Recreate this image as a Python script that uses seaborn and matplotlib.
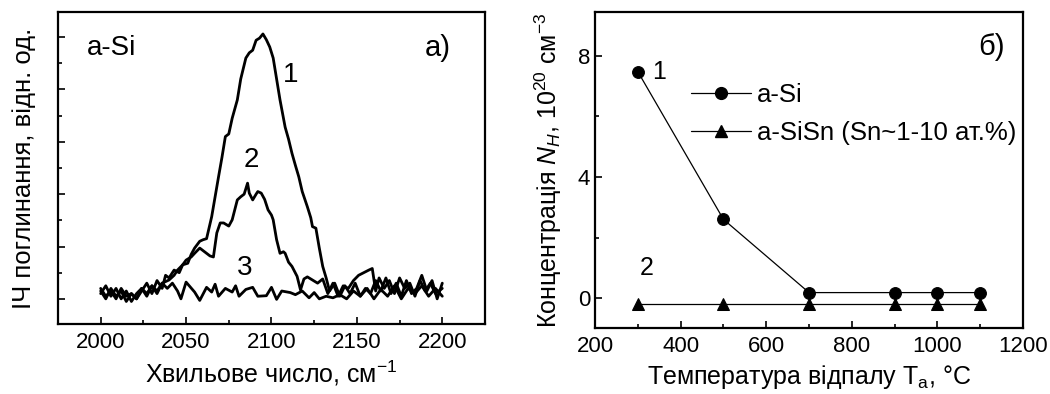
import matplotlib
matplotlib.use('Agg')
import matplotlib.pyplot as plt
from matplotlib.lines import Line2D
import seaborn as sns

sns.set_style('ticks')
plt.rcParams['font.family'] = ['Liberation Sans', 'DejaVu Sans']
plt.rcParams['mathtext.fontset'] = 'custom'
plt.rcParams['mathtext.rm'] = 'Liberation Sans'
plt.rcParams['mathtext.it'] = 'Liberation Sans:italic'
plt.rcParams['text.color'] = 'black'
plt.rcParams['axes.labelcolor'] = 'black'
plt.rcParams['xtick.color'] = 'black'
plt.rcParams['ytick.color'] = 'black'

# IR absorption spectra (panel a)
x1 = [2000, 2003, 2006, 2009, 2012, 2015, 2018, 2021, 2024, 2027, 2030, 2033, 2036, 2038, 2040, 2043,
      2046, 2048, 2051, 2053, 2055, 2058, 2060, 2062, 2065, 2067, 2069, 2071, 2073, 2075, 2077, 2080,
      2082, 2085, 2087, 2089, 2091, 2093, 2095, 2097, 2099, 2101, 2103, 2105, 2108, 2110, 2112, 2114,
      2116, 2118, 2121, 2123, 2124, 2126, 2128, 2130, 2132, 2134, 2137, 2140, 2143, 2146, 2149, 2152,
      2155, 2158, 2161, 2164, 2167, 2170, 2173, 2176, 2179, 2182, 2185, 2188, 2191, 2194, 2197, 2200]
y1 = [0.2, 0.05, 0.15, 0.0, 0.2, 0.05, 0.1, 0.0, 0.15, 0.3, 0.1, 0.35, 0.2, 0.45, 0.4, 0.55,
      0.5, 0.65, 0.68, 0.85, 0.97, 1.1, 1.13, 1.15, 1.57, 1.95, 2.33, 2.7, 3.1, 3.15, 3.45, 3.8,
      4.2, 4.6, 4.7, 4.75, 4.94, 4.98, 5.06, 4.95, 4.81, 4.6, 4.2, 3.8, 3.28, 3.05, 2.78, 2.55,
      2.33, 2.05, 1.76, 1.55, 1.38, 1.35, 0.97, 0.62, 0.4, 0.15, 0.3, 0.05, 0.25, 0.1, 0.3, 0.05,
      0.2, 0.1, 0.35, 0.15, 0.4, 0.1, 0.3, 0.05, 0.35, 0.1, 0.2, 0.45, 0.15, 0.35, 0.0, 0.3]

x2 = [2000, 2003, 2006, 2009, 2012, 2015, 2018, 2021, 2024, 2027, 2030, 2033, 2036, 2040, 2043, 2045,
      2048, 2050, 2053, 2055, 2058, 2060, 2062, 2064, 2066, 2068, 2070, 2072, 2075, 2077, 2080, 2082,
      2084, 2086, 2087, 2089, 2091, 2092, 2094, 2096, 2098, 2100, 2101, 2103, 2105, 2107, 2108, 2110,
      2112, 2115, 2117, 2119, 2121, 2124, 2127, 2130, 2133, 2136, 2139, 2142, 2145, 2148, 2151, 2154,
      2157, 2159, 2161, 2163, 2166, 2169, 2172, 2175, 2178, 2181, 2184, 2187, 2190, 2193, 2196, 2200]
y2 = [0.1, 0.25, 0.05, 0.2, 0.0, 0.15, -0.05, 0.1, 0.2, 0.05, 0.25, 0.15, 0.3, 0.36, 0.45, 0.55,
      0.65, 0.74, 0.8, 0.87, 0.97, 0.92, 0.87, 0.82, 0.8, 1.26, 1.45, 1.45, 1.39, 1.51, 1.89, 1.95,
      2.0, 2.21, 2.02, 1.89, 2.0, 2.05, 2.02, 1.9, 1.7, 1.6, 1.51, 1.13, 0.87, 0.9, 0.87, 0.7,
      0.62, 0.43, 0.17, 0.38, 0.42, 0.36, 0.3, 0.38, 0.1, 0.3, 0.05, 0.25, 0.2, 0.35, 0.45, 0.5,
      0.55, 0.58, 0.15, 0.4, 0.2, 0.35, 0.1, 0.4, 0.2, 0.3, 0.05, 0.35, 0.15, 0.3, 0.1, 0.2]

x3 = [2000, 2003, 2006, 2009, 2012, 2015, 2018, 2021, 2024, 2027, 2030, 2033, 2036, 2039, 2042, 2045,
      2047, 2050, 2055, 2058, 2062, 2065, 2067, 2069, 2073, 2077, 2079, 2081, 2085, 2089, 2092, 2097,
      2100, 2103, 2106, 2111, 2114, 2118, 2122, 2125, 2128, 2132, 2136, 2140, 2144, 2148, 2152, 2156,
      2160, 2164, 2168, 2172, 2176, 2180, 2184, 2188, 2192, 2196, 2200]
y3 = [0.15, 0.0, 0.2, 0.05, 0.15, -0.05, 0.1, 0.0, 0.2, 0.1, 0.25, 0.1, 0.3, 0.2, 0.3, 0.15,
      0.0, 0.32, 0.13, -0.03, 0.22, 0.13, 0.28, 0.05, 0.2, 0.13, 0.25, 0.05, 0.18, 0.22, 0.05, 0.06,
      0.22, -0.01, 0.15, 0.12, 0.08, 0.15, 0.02, 0.12, 0.0, 0.05, 0.02, 0.08, 0.0, 0.15, 0.05, 0.2,
      0.0, 0.18, 0.05, 0.25, 0.0, 0.2, 0.1, 0.25, 0.05, 0.2, 0.05]

# Hydrogen concentration vs annealing temperature (panel b)
temps = [300, 500, 700, 900, 1000, 1100]
nh_si = [7.48, 2.6, 0.18, 0.18, 0.18, 0.18]
nh_sisn = [-0.2, -0.2, -0.2, -0.2, -0.2, -0.2]
legend_labels = ['a-Si', 'a-SiSn (Sn~1-10 ат.%)']

fig = plt.figure(figsize=(10.5, 3.94), dpi=100)
ax1 = fig.add_axes([0.0552, 0.1777, 0.4067, 0.7919])
ax2 = fig.add_axes([0.5667, 0.1675, 0.4076, 0.802])

# Panel a
for xs, ys in [(x1, y1), (x2, y2), (x3, y3)]:
    sns.lineplot(x=xs, y=ys, ax=ax1, color='black', linewidth=2.0, estimator=None, sort=False)
ax1.set_xlim(1975, 2225)
ax1.set_ylim(-0.48, 5.48)
ax1.set_xticks([2000, 2050, 2100, 2150, 2200])
ax1.set_xticks([2025, 2075, 2125, 2175], minor=True)
ax1.set_yticks([0, 1, 2, 3, 4, 5])
ax1.set_yticks([0.5, 1.5, 2.5, 3.5, 4.5], minor=True)
ax1.set_yticklabels([])
ax1.set_xlabel('Хвильове число, см$^{-1}$', fontsize=18)
ax1.set_ylabel('ІЧ поглинання, відн. од.', fontsize=18.5, labelpad=12)
ax1.text(1992, 4.8, 'a-Si', fontsize=20, ha='left', va='center')
ax1.text(2205, 4.8, 'a)', fontsize=21, ha='right', va='center')
ax1.text(2111, 4.27, '1', fontsize=20, ha='center', va='center')
ax1.text(2088, 2.65, '2', fontsize=20, ha='center', va='center')
ax1.text(2084, 0.59, '3', fontsize=20, ha='center', va='center')

# Panel b
sns.lineplot(x=temps, y=nh_si, ax=ax2, color='black', linewidth=0.9, marker='o',
             markersize=8.5, markeredgecolor='black', estimator=None)
sns.lineplot(x=temps, y=nh_sisn, ax=ax2, color='black', linewidth=0.9, marker='^',
             markersize=8.5, markeredgecolor='black', estimator=None)
ax2.set_xlim(200, 1200)
ax2.set_ylim(-0.99, 9.45)
ax2.set_xticks([200, 400, 600, 800, 1000, 1200])
ax2.set_xticks([300, 500, 700, 900, 1100], minor=True)
ax2.set_yticks([0, 4, 8])
ax2.set_yticks([2, 6], minor=True)
ax2.set_xlabel('Температура відпалу T$_{\\rm a}$, °C', fontsize=18)
ax2.set_ylabel('Концентрація $N_H$, 10$^{20}$ см$^{-3}$', fontsize=18, labelpad=10)
ax2.text(1158, 8.29, 'б)', fontsize=21, ha='right', va='center')
ax2.text(350, 7.46, '1', fontsize=18, ha='center', va='center')
ax2.text(320, 0.98, '2', fontsize=18, ha='center', va='center')
handles = [Line2D([], [], color='black', lw=0.9, marker='o', markersize=8.5),
           Line2D([], [], color='black', lw=0.9, marker='^', markersize=8.5)]
ax2.legend(handles, legend_labels, loc='upper left',
           bbox_to_anchor=(0.224, 0.776), frameon=False, fontsize=18.5, handlelength=2.33,
           handletextpad=0.23, labelspacing=0.55, borderaxespad=0, borderpad=0)

for ax in (ax1, ax2):
    for s in ax.spines.values():
        s.set_linewidth(1.6)
        s.set_color('black')
        s.set_visible(True)
    ax.tick_params(which='both', direction='in', top=False, right=False, width=1.2, colors='black')
    ax.tick_params(which='major', length=5, labelsize=16)
    ax.tick_params(which='minor', length=3)
    ax.xaxis.set_tick_params(pad=6)

fig.savefig('out.png', dpi=100)
